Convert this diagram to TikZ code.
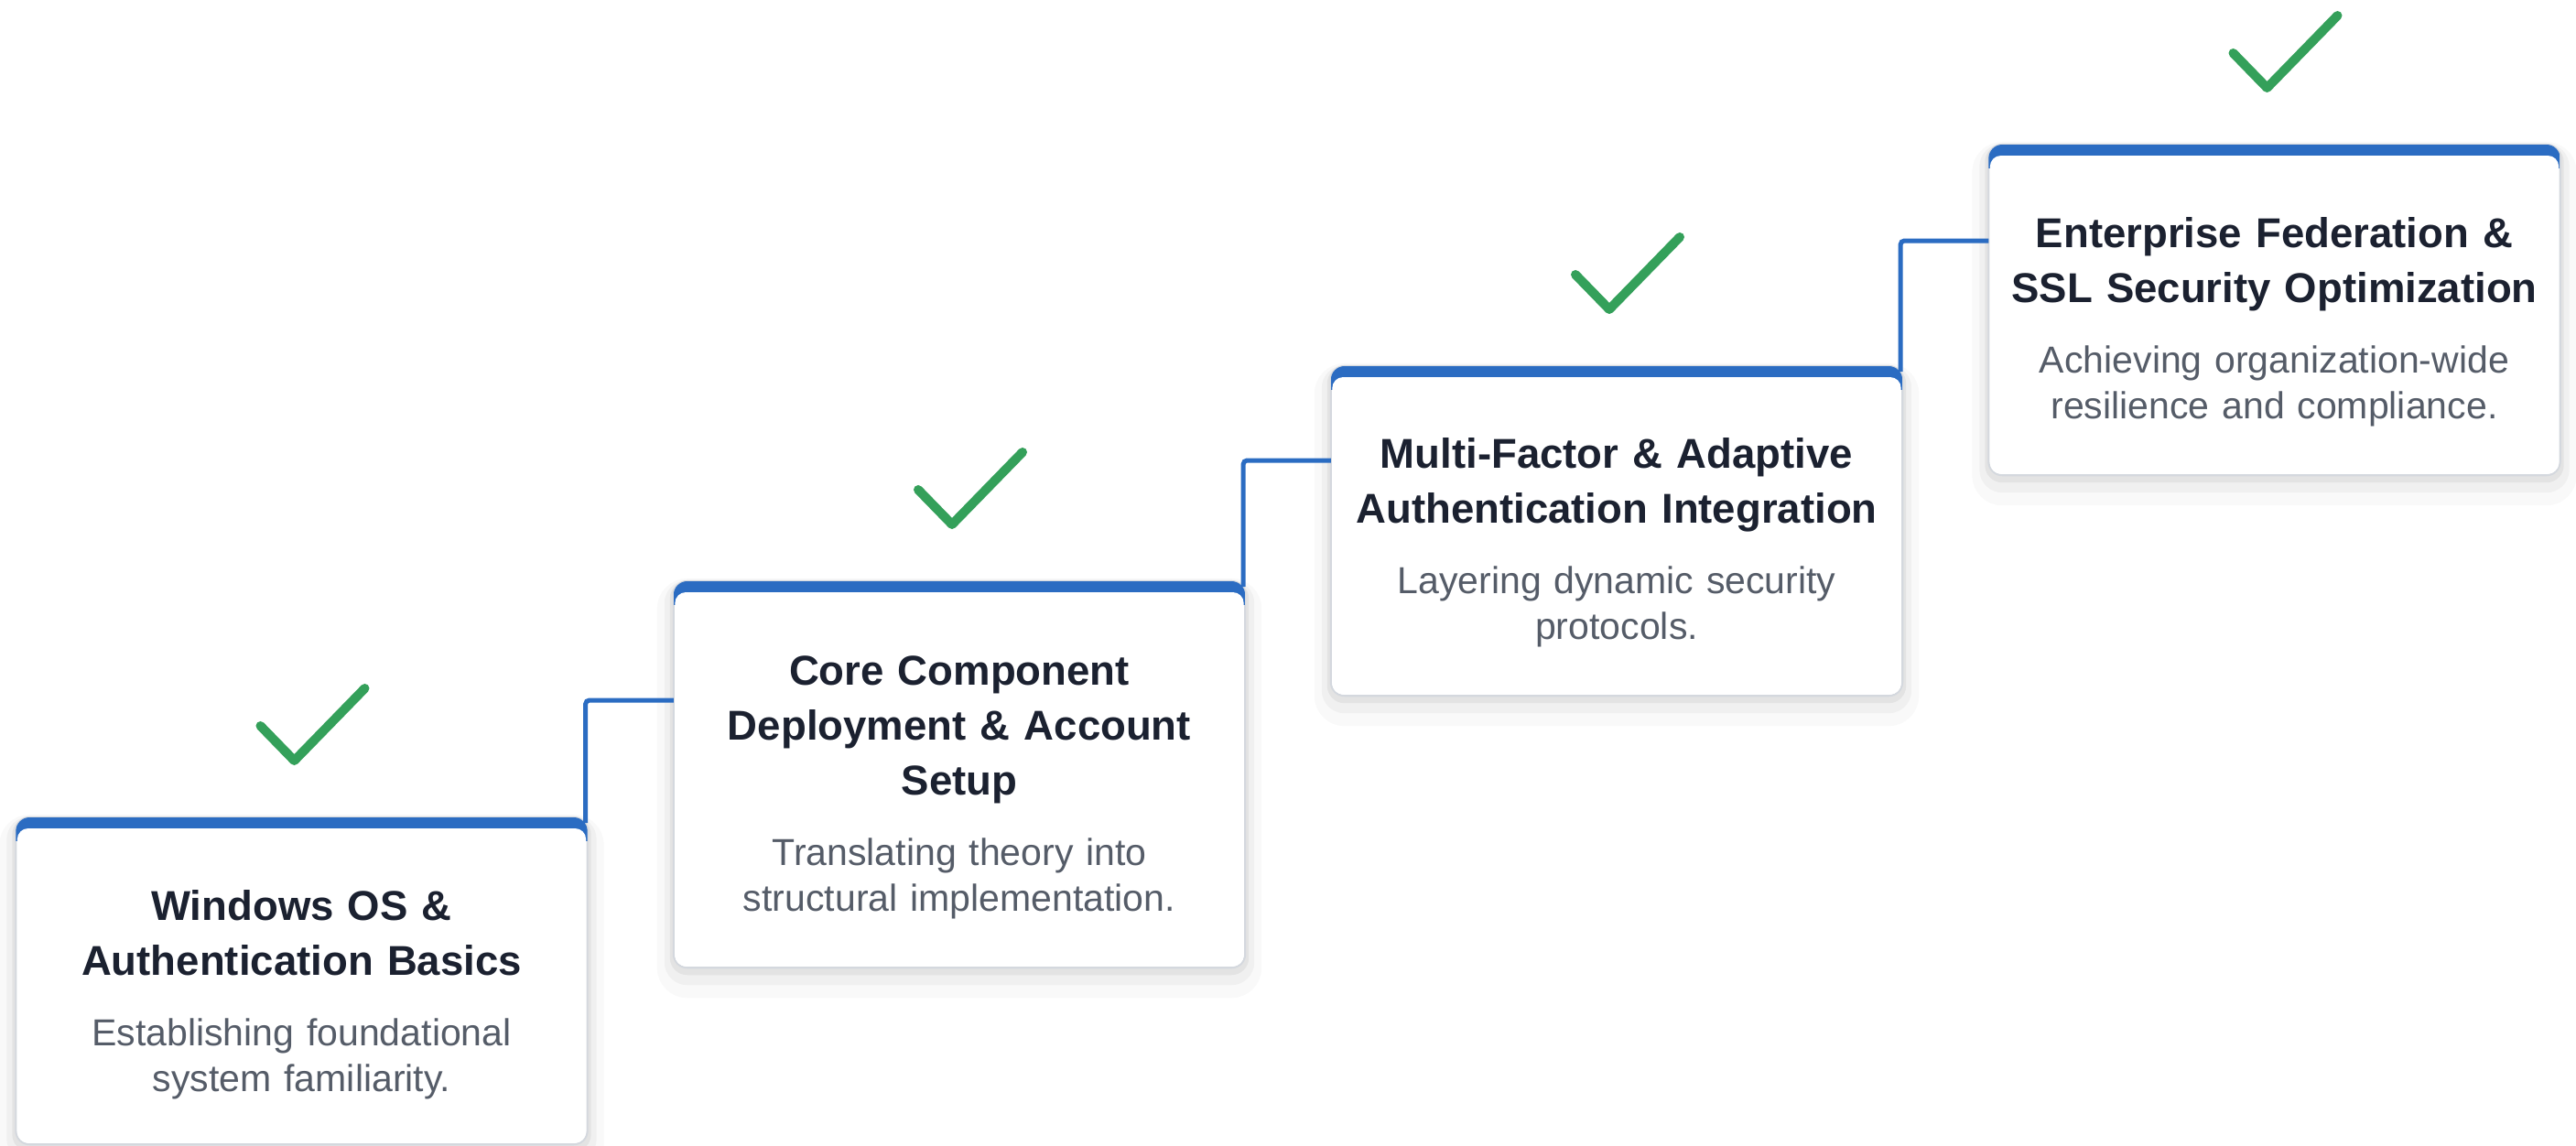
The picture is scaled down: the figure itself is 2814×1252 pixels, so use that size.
\documentclass[tikz,border=0pt]{standalone}
\usepackage{fontspec}
\setmainfont{Liberation Sans}
\usetikzlibrary{calc}
\definecolor{cblue}{RGB}{43,108,194}
\definecolor{cgreen}{RGB}{52,160,90}
\definecolor{ctitle}{RGB}{27,33,48}
\definecolor{csub}{RGB}{85,92,104}
\definecolor{cborder}{RGB}{212,216,222}
\tikzset{
  card/.style={rectangle, rounded corners=0.15cm, minimum width=6.24cm,
    minimum height=#1, inner sep=0pt, outer sep=0pt, anchor=north,
    fill=white, draw=cborder, line width=0.6pt,
    preaction={draw=black, draw opacity=0.025, line width=0.36cm, transform canvas={yshift=-0.15cm}},
    preaction={draw=black, draw opacity=0.035, line width=0.2cm, transform canvas={yshift=-0.09cm}},
    preaction={draw=black, draw opacity=0.05, line width=0.08cm, transform canvas={yshift=-0.04cm}}},
  titletext/.style={text width=6.1cm, align=center, inner sep=0pt, anchor=base,
    font=\fontsize{12.95pt}{17.07pt}\selectfont\bfseries, text=ctitle},
  subtext/.style={text width=6.1cm, align=center, inner sep=0pt, anchor=base,
    font=\fontsize{11.67pt}{14.23pt}\selectfont, text=csub},
  conn/.style={draw=cblue, line width=0.05cm, rounded corners=0.04cm},
  checkmark/.style={draw=cgreen, line width=0.1cm, line cap=round, line join=round}
}
\begin{document}
\begin{tikzpicture}[x=0.01cm, y=-0.01cm]
\useasboundingbox (0,0) rectangle (2814,1252);
\fill[white] (0,0) rectangle (2814,1252);

% cards
\node[card=3.57cm] (b1) at (329.5,893) {};
\node[card=4.22cm] (b2) at (1048,635) {};
\node[card=3.60cm] (b3) at (1766,400) {};
\node[card=3.61cm] (b4) at (2484.5,158) {};

\foreach \n in {b1,b2,b3,b4}{
  \begin{scope}
    \clip[rounded corners=0.15cm] (\n.north west) rectangle (\n.south east);
    \fill[cblue] (\n.north west) rectangle ([yshift=-0.26cm]\n.north east);
    \fill[white, rounded corners=0.12cm] ([xshift=0.015cm, yshift=-0.12cm]\n.north west)
      rectangle ([xshift=-0.015cm, yshift=0.015cm]\n.south east);
  \end{scope}
}

% connectors
\draw[conn] ([xshift=-0.02cm, yshift=-0.06cm]b1.north east) |- ([yshift=-1.30cm]b2.north west);
\draw[conn] ([xshift=-0.02cm, yshift=-0.06cm]b2.north east) |- ([yshift=-1.03cm]b3.north west);
\draw[conn] ([xshift=-0.02cm, yshift=-0.06cm]b3.north east) |- ([yshift=-1.05cm]b4.north west);

% check marks
\foreach \n in {b1,b2,b3,b4}{
  \draw[checkmark] ($(\n.north)+(-45,-100)$) -- ($(\n.north)+(-8,-62)$) -- ($(\n.north)+(69,-141)$);
}

% texts
\node[titletext] (t1) at ([yshift=-1.12cm]b1.north) {Windows OS \&\\Authentication Basics};
\node[subtext] (s1) at ([yshift=-2.49cm]b1.north) {Establishing foundational\\system familiarity.};
\node[titletext] (t2) at ([yshift=-1.13cm]b2.north) {Core Component\\Deployment \& Account\\Setup};
\node[subtext] (s2) at ([yshift=-3.10cm]b2.north) {Translating theory into\\structural implementation.};
\node[titletext] (t3) at ([yshift=-1.11cm]b3.north) {Multi-Factor \& Adaptive\\Authentication Integration};
\node[subtext] (s3) at ([yshift=-2.48cm]b3.north) {Layering dynamic security\\protocols.};
\node[titletext] (t4) at ([yshift=-1.12cm]b4.north) {Enterprise Federation \&\\SSL Security Optimization};
\node[subtext] (s4) at ([yshift=-2.49cm]b4.north) {Achieving organization-wide\\resilience and compliance.};
\end{tikzpicture}
\end{document}
